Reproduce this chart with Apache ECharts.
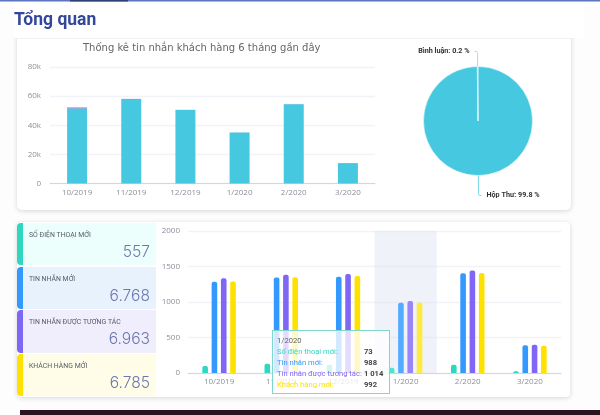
<!DOCTYPE html>
<html><head><meta charset="utf-8">
<style>html,body{margin:0;padding:0;background:#fff;overflow:hidden}#c{width:600px;height:415px}</style>
<script src="https://cdn.jsdelivr.net/npm/echarts@6/dist/echarts.min.js"></script>
</head><body><div id="c"></div>
<script>
const months = ['10/2019','11/2019','12/2019','1/2020','2/2020','3/2020'];
const inboxValues = [51500,58000,50500,35000,54500,14000];
const commentValues = [700,100,100,60,120,30];
const pieNames = ['Hộp Thư','Bình luận'];
const pieValues = [99.8,0.2];
const phoneNew = [100,130,115,73,115,24];
const messageNew = [1285,1345,1355,988,1405,390];
const messageInteract = [1333,1383,1393,1014,1443,397];
const customerNew = [1287,1347,1367,992,1407,385];
const seriesNames = ['Số điện thoại mới','Tin nhắn mới','Tin nhắn được tương tác','Khách hàng mới'];
const seriesColors = ['#2DD8C0','#3399FF','#8066F5','#FFE100'];
const hiColors = ['#52E3CF','#52ABFF','#9A85F8','#FFEB3B'];
const cardTotals = ['557','6.768','6.963','6.785'];
const cardLabels = ['SỐ ĐIỆN THOẠI MỚI','TIN NHẮN MỚI','TIN NHẮN ĐƯỢC TƯƠNG TÁC','KHÁCH HÀNG MỚI'];
const cardBgs = ['#ECFFFC','#E8F2FD','#F0EEFC','#FFFDE8'];
const hoverIndex = 3;

const font = 'Roboto, sans-serif';
const axisText = {color:'#8a8f99',fontSize:8,fontFamily:'"Open Sans", sans-serif'};
const graphics = [
 {type:'rect',z:0,shape:{x:0,y:0,width:600,height:415},style:{fill:'#FDFDFD'}},
 {type:'rect',z:0,shape:{x:17,y:30,width:554,height:180,r:5},style:{fill:'#fff',shadowBlur:5,shadowColor:'rgba(0,0,0,.16)',shadowOffsetY:1}},
 {type:'rect',z:0,shape:{x:14,y:0,width:570,height:38},style:{fill:'#FFFFFF'}},
 {type:'rect',z:0,shape:{x:0,y:0,width:600,height:1.5},style:{fill:'#5B76BE'}},
 {type:'rect',z:0,shape:{x:70,y:0,width:58,height:1.5},style:{fill:'#2F4274'}},
 {type:'rect',z:0,shape:{x:14,y:38,width:560,height:0.7},style:{fill:'#ECECEC'}},
 {type:'text',z:1,x:14,y:12,style:{text:'Tổng quan',fill:'#34479B',fontSize:17.5,fontWeight:'bold',fontFamily:font}},
 {type:'rect',z:0,shape:{x:17,y:222,width:553,height:175,r:4},style:{fill:'#fff',shadowBlur:5,shadowColor:'rgba(0,0,0,.16)',shadowOffsetY:1}},
 {type:'rect',z:0,shape:{x:20,y:410,width:580,height:5},style:{fill:'#2B1420'}},
];
const cardY = [223,267,310,354], cardH = [42,42,43,42];
cardLabels.forEach((t,i)=>{
 const y = cardY[i], h = cardH[i];
 graphics.push({type:'rect',z:1,shape:{x:17,y:y,width:22,height:h,r:4},style:{fill:seriesColors[i]}});
 graphics.push({type:'rect',z:1,shape:{x:23,y:y,width:133,height:h},style:{fill:cardBgs[i]}});
 graphics.push({type:'text',z:2,x:29,y:y+9,style:{text:t,fill:'#555a66',fontSize:6.9,fontFamily:font}});
 graphics.push({type:'text',z:2,x:150,y:y+21,style:{text:cardTotals[i],fill:'#6D78AE',fontSize:15.6,fontWeight:300,fontFamily:'Inter, sans-serif',align:'right'}});
});

const barSeries = [phoneNew,messageNew,messageInteract,customerNew].map((vals,i)=>({
 name:seriesNames[i],type:'bar',xAxisIndex:1,yAxisIndex:1,barWidth:5.6,barGap:'66%',z:3,
 data:vals.map((v,j)=> j===hoverIndex ? {value:v,itemStyle:{color:hiColors[i]}} : v),
 itemStyle:{color:seriesColors[i],borderRadius:[2,2,0,0]},
 emphasis:{disabled:true}
}));

const fmt = v => String(v).replace(/\B(?=(\d{3})+$)/g,' ');
const chart = echarts.init(document.getElementById('c'),null,{renderer:'canvas'});
chart.setOption({
 animation:false,
 title:{text:'Thống kê tin nhắn khách hàng 6 tháng gần đây',left:78,top:38,
   textStyle:{color:'#666',fontSize:10,fontWeight:'normal',fontFamily:'"DejaVu Sans", sans-serif'}},
 graphic:graphics,
 grid:[{left:50,right:225,top:67,height:116.5},{left:188,right:39,top:231,height:142}],
 tooltip:{trigger:'axis',triggerOn:'none',alwaysShowContent:true,
   position:[272,330],padding:0,borderWidth:0,backgroundColor:'transparent',
   extraCssText:'box-shadow:none;',
   formatter:ps=>{
     const rows = ps.map(p=>`<div style="height:11px;line-height:11px;white-space:nowrap"><span style="display:inline-block;width:87px;color:${seriesColors[seriesNames.indexOf(p.seriesName)]}">${p.seriesName}:</span><span style="color:#444;font-weight:bold">${fmt(p.value)}</span></div>`).join('');
     return `<div style="box-sizing:border-box;width:118px;height:64px;border:1px solid #7FD9CB;background:rgba(255,255,255,.78);padding:4px 4px;font:7.6px Roboto,sans-serif;overflow:hidden"><div style="color:#666;height:11px;line-height:11px">${ps[0].name}</div>${rows}</div>`;
   }},
 xAxis:[
  {type:'category',gridIndex:0,data:months,axisLine:{lineStyle:{color:'#CDD6F0'}},axisTick:{length:5,lineStyle:{color:'#CDD6F0'}},axisLabel:{...axisText,margin:5,interval:0},axisPointer:{show:false}},
  {type:'category',gridIndex:1,data:months,axisLine:{lineStyle:{color:'#CDD6F0'}},axisTick:{length:5,lineStyle:{color:'#CDD6F0'}},axisLabel:{...axisText,margin:5,interval:0},axisPointer:{show:true,type:'shadow',z:1,shadowStyle:{color:'rgba(215,222,238,.38)'},label:{show:false}}}
 ],
 yAxis:[
  {type:'value',gridIndex:0,min:0,max:80000,interval:20000,axisLine:{show:false},axisTick:{show:false},splitLine:{lineStyle:{color:'#F2F3F8',width:1.3}},axisLabel:{...axisText,margin:9,formatter:v=>v===0?'0':(v/1000)+'k'}},
  {type:'value',gridIndex:1,min:0,max:2000,interval:500,axisLine:{show:false},axisTick:{show:false},splitLine:{lineStyle:{color:'#F2F3F8',width:1.3}},axisLabel:{...axisText,margin:8,formatter:v=>String(v)}}
 ],
 series:[
  {name:'Hộp Thư',type:'bar',stack:'m',xAxisIndex:0,yAxisIndex:0,barWidth:20,data:inboxValues,itemStyle:{color:'#46C9E0'},emphasis:{disabled:true}},
  {name:'Bình luận',type:'bar',stack:'m',xAxisIndex:0,yAxisIndex:0,barWidth:20,data:commentValues,itemStyle:{color:'#7D78D8'},emphasis:{disabled:true}},
  {type:'pie',center:[478,121],radius:[0,54.5],startAngle:90,clockwise:true,avoidLabelOverlap:false,
   data:pieNames.map((n,i)=>({name:n,value:pieValues[i],labelLine:{length:i===0?20:15,length2:3}})),
   color:['#46C9E0','#B7B5EC'],
   itemStyle:{borderColor:'#fff',borderWidth:0.5},
   emphasis:{disabled:true},
   label:{formatter:p=>p.name+': '+p.value+' %',fontSize:7.2,fontWeight:'bold',color:'#333',fontFamily:'Roboto, sans-serif',padding:[0,0,0,0]},
   labelLine:{smooth:true,lineStyle:{width:0.8}}
  },
  ...barSeries
 ]
});
chart.dispatchAction({type:'showTip',seriesIndex:3,dataIndex:hoverIndex});
</script></body></html>
